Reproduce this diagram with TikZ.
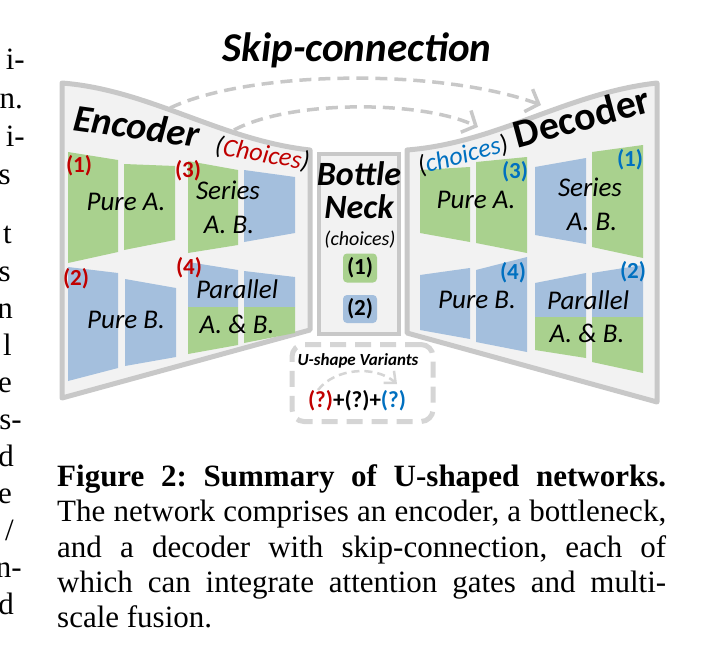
\documentclass[tikz,border=0pt]{standalone}
\usepackage{fontspec}
\setmainfont{Liberation Serif}
\newfontfamily\cf{Carlito}
\usetikzlibrary{arrows.meta}
\definecolor{gA}{HTML}{A9D18E}
\definecolor{bB}{HTML}{A4BFDD}
\definecolor{frameC}{HTML}{C8C8C8}
\definecolor{frameF}{HTML}{F2F2F2}
\definecolor{redL}{HTML}{C00000}
\definecolor{blueL}{HTML}{0070C0}
\definecolor{dashC}{HTML}{D5D5D5}
\newcommand\quadblk[7]{\fill[#1] (#2,#3) -- (#4,#5) -- (#4,#6) -- (#2,#7) -- cycle;}
\frenchspacing
\begin{document}
\begin{tikzpicture}[x=1pt,y=-1pt,
 frame/.style={draw=frameC, fill=frameF, line width=5pt, line join=round},
 lab/.style={font=\cf\bfseries\fontsize{23}{23}\selectfont, inner sep=0pt},
 itl/.style={font=\cf\itshape\fontsize{27}{27}\selectfont, inner sep=0pt},
 big/.style={font=\cf\bfseries\itshape\fontsize{38}{38}\selectfont, inner sep=0pt, anchor=base},
 skiparrow/.style={draw=frameC, line width=3.5pt, dash pattern=on 12pt off 7pt,
   -{Straight Barb[length=11pt,width=24pt,line width=3.5pt]}},
 frag/.style={font=\fontsize{31}{31}\selectfont, anchor=base east, inner sep=0pt},
 capline/.style={font=\fontsize{31}{31}\selectfont, anchor=base west, inner sep=0pt},
]
\useasboundingbox (0,0) rectangle (719,666);

% left column fragments
\node[frag] (f1) at (25,70) {i-};
\node[frag] (f2) at (23,108) {n.};
\node[frag] (f3) at (25,146) {i-};
\node[frag] (f4) at (11,184) {s};
\node[frag] (f5) at (12,243) {t};
\node[frag] (f6) at (11,281) {s};
\node[frag] (f7) at (13,318) {n};
\node[frag] (f8) at (12,355) {l};
\node[frag] (f9) at (12,392) {e};
\node[frag] (f10) at (22,429) {s-};
\node[frag] (f11) at (14,466) {d};
\node[frag] (f12) at (12,503) {e};
\node[frag] (f13) at (14,540) {/};
\node[frag] (f14) at (22,577) {n-};
\node[frag] (f15) at (14,614) {d};

% title
\node[font=\cf\bfseries\itshape\fontsize{41}{41}\selectfont, anchor=base, inner sep=0pt] (title) at (357,62) {Skip-connection};

% frames
\path[frame] (62,83) .. controls (150,90) and (220,140) .. (310,150) -- (310,330) -- (62,398) -- cycle;
\path[frame] (407,150) .. controls (497,143) and (567,93) .. (657,83) -- (657,402) -- (407,333) -- cycle;
\node[draw=frameC, fill=frameF, line width=4.5pt, minimum width=80pt, minimum height=180pt, inner sep=0pt] (bn) at (359,244) {};

% encoder blocks
\quadblk{gA}{68}{152}{118}{160}{252}{263}
\quadblk{gA}{124}{164}{175}{166}{240}{250}
\quadblk{gA}{188}{161}{238}{170}{245}{253}
\quadblk{bB}{244}{170}{295}{177}{233}{242}
\quadblk{bB}{68}{267}{118}{273}{368}{381}
\quadblk{bB}{125}{279}{176}{288}{357}{366}
\quadblk{bB}{188}{262}{238}{270}{307}{307}
\quadblk{gA}{188}{307}{238}{307}{345}{354}
\quadblk{bB}{244}{271}{295}{277}{307}{307}
\quadblk{gA}{244}{307}{295}{307}{333}{343}

% decoder blocks
\quadblk{gA}{420}{170}{470}{167}{242}{233}
\quadblk{gA}{476}{162}{527}{157}{253}{243}
\quadblk{bB}{535}{167}{586}{158}{244}{235}
\quadblk{gA}{592}{152}{643}{145}{258}{247}
\quadblk{bB}{420}{275}{470}{268}{339}{330}
\quadblk{bB}{476}{270}{527}{257}{352}{342}
\quadblk{bB}{535}{283}{586}{273}{317}{317}
\quadblk{gA}{535}{317}{586}{317}{358}{350}
\quadblk{bB}{592}{273}{643}{265}{317}{317}
\quadblk{gA}{592}{317}{643}{317}{373}{362}

% encoder texts
\node[big, rotate=-8] (enc) at (135,139) {Encoder};
\node[font=\cf\itshape\fontsize{26}{26}\selectfont, anchor=base, inner sep=0pt, rotate=-10] (encch) at (261,162) {(\textcolor{redL}{Choices})};
\node[lab, text=redL] (e1) at (79,166) {(1)};
\node[lab, text=redL] (e3) at (188,171) {(3)};
\node[lab, text=redL] (e2) at (76,279) {(2)};
\node[lab, text=redL] (e4) at (189,268) {(4)};
\node[itl] (epa) at (126,202) {Pure A.};
\node[itl] (ese) at (228,190) {Series};
\node[itl] (eab) at (229,225) {A. B.};
\node[itl] (epb) at (126,320) {Pure B.};
\node[itl] (epr) at (237,289) {Parallel};
\node[itl] (eab2) at (237,324) {A. \& B.};

% decoder texts
\node[font=\cf\bfseries\fontsize{40}{40}\selectfont, anchor=base, inner sep=0pt, rotate=15] (dec) at (585,130) {Decoder};
\node[font=\cf\itshape\fontsize{26}{26}\selectfont, anchor=base, inner sep=0pt, rotate=15] (decch) at (465,163) {(\textcolor{blueL}{choices})};
\node[lab, text=blueL] (d3) at (515,172) {(3)};
\node[lab, text=blueL] (d1) at (630,160) {(1)};
\node[lab, text=blueL] (d4) at (513,273) {(4)};
\node[lab, text=blueL] (d2) at (633,272) {(2)};
\node[itl] (dpa) at (476,200) {Pure A.};
\node[itl] (dse) at (590,187) {Series};
\node[itl] (dab) at (592,222) {A. B.};
\node[itl] (dpb) at (477,300) {Pure B.};
\node[itl] (dpr) at (588,300) {Parallel};
\node[itl] (dab2) at (587,333) {A. \& B.};

% bottleneck texts
\node[font=\cf\bfseries\itshape\fontsize{34}{34}\selectfont, anchor=base, inner sep=0pt] (bt1) at (359,185) {Bottle};
\node[font=\cf\bfseries\itshape\fontsize{34}{34}\selectfont, anchor=base, inner sep=0pt] (bt2) at (359,218) {Neck};
\node[font=\cf\itshape\fontsize{20}{20}\selectfont, anchor=base, inner sep=0pt] (btc) at (360,245) {(choices)};
\node[lab, fill=gA, rounded corners=4pt, minimum width=34pt, minimum height=29pt] (b1) at (360,268) {(1)};
\node[lab, fill=bB, rounded corners=4pt, minimum width=34pt, minimum height=28pt] (b2) at (360,309) {(2)};

% skip connections
\coordinate (s1a) at (170,108);
\coordinate (s1b) at (541,105);
\coordinate (s2a) at (234,130);
\coordinate (s2b) at (478,127);
\draw[skiparrow] (s1a) .. controls (250,70) and (440,68) .. (s1b);
\draw[skiparrow] (s2a) .. controls (290,100) and (420,100) .. (s2b);

% U-shape variants
\node[draw=dashC, line width=5pt, dash pattern=on 16pt off 9pt, rounded corners=12pt, fill=white, minimum width=141pt, minimum height=77pt] (ubox) at (362.5,383) {};
\node[font=\cf\bfseries\itshape\fontsize{17}{17}\selectfont, inner sep=0pt] (ut) at (358,361) {U-shape Variants};
\coordinate (ua) at (318,390);
\coordinate (ub) at (397,384);
\draw[dashC, line width=2.5pt, dash pattern=on 8pt off 5pt, -{Straight Barb[length=9pt,width=16pt,line width=2.5pt]}] (ua) .. controls (335,368) and (375,365) .. (ub);
\node[lab] (uq) at (357,401) {\textcolor{redL}{(?)}+(?)+\textcolor{blueL}{(?)}};

% caption
\node[capline] (c1) at (57,486) {\makebox[609pt][s]{\bfseries Figure 2: Summary of U-shaped networks.}};
\node[capline] (c2) at (57,521) {\makebox[609pt][s]{The network comprises an encoder, a bottleneck,}};
\node[capline] (c3) at (57,557) {\makebox[609pt][s]{and a decoder with skip-connection, each of}};
\node[capline] (c4) at (57,592) {\makebox[609pt][s]{which can integrate attention gates and multi-}};
\node[capline] (c5) at (57,627) {scale fusion.};
\end{tikzpicture}
\end{document}
